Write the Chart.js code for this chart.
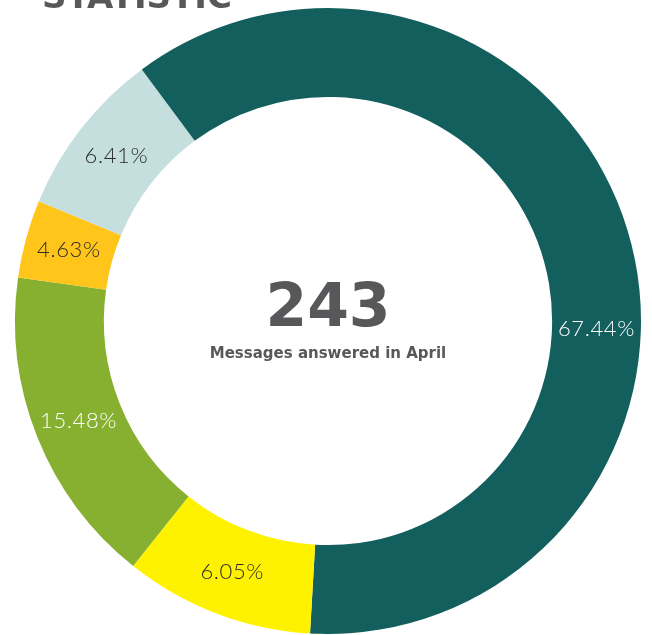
<!DOCTYPE html>
<html lang="en">
<head>
<meta charset="utf-8">
<title>Statistic</title>
<script src="https://cdn.jsdelivr.net/npm/chart.js@4.4.1/dist/chart.umd.min.js"></script>
<style>
  html, body { margin: 0; padding: 0; background: #fff; }
  #wrap { width: 652px; height: 635px; position: relative; }
</style>
</head>
<body>
<div id="wrap"><canvas id="stat"></canvas></div>
<script>
const shares = [50.92, 9.78, 16.53, 4.03, 8.61, 10.14];
// texts printed on the segments (last teal piece has none)
const labelTexts = ['67.44%', '6.05%', '15.48%', '4.63%', '6.41%', ''];
const colors = ['#135f5d', '#fff200', '#87b031', '#ffc51a', '#c5dfdf', '#135f5d'];
const labelColors = ['#ffffff', '#2a2a2a', '#ffffff', '#2a2a2a', '#2a2a2a', '#ffffff'];
const centerValue = '243';
const centerCaption = 'Messages answered in April';
const heading = 'STATISTIC';

const textPlugin = {
  id: 'textPlugin',
  afterDatasetsDraw(chart) {
    const ctx = chart.ctx;
    const arcs = chart.getDatasetMeta(0).data;
    ctx.save();
    ctx.textAlign = 'center';
    ctx.textBaseline = 'middle';
    ctx.font = '300 22px Lato';
    ctx.letterSpacing = '0.6px';
    arcs.forEach(function (arc, i) {
      if (!labelTexts[i]) return;
      const p = arc.tooltipPosition();
      ctx.fillStyle = labelColors[i];
      ctx.fillText(labelTexts[i], p.x, p.y);
    });
    ctx.letterSpacing = '0px';
    const c = arcs[0];
    ctx.fillStyle = '#58585a';
    ctx.font = 'bold 60px "DejaVu Sans"';
    ctx.textBaseline = 'alphabetic';
    ctx.fillText(centerValue, c.x, c.y + 5);
    ctx.font = 'bold 15px "DejaVu Sans"';
    ctx.fillText(centerCaption, c.x, c.y + 37);
    // heading, cut off by the top edge
    ctx.textAlign = 'left';
    ctx.font = 'bold 34px "DejaVu Sans"';
    ctx.fillText(heading, 42, 8);
    ctx.restore();
  }
};

new Chart(document.getElementById('stat'), {
  type: 'doughnut',
  data: {
    labels: labelTexts,
    datasets: [{
      data: shares,
      backgroundColor: colors,
      borderWidth: 0
    }]
  },
  options: {
    responsive: true,
    maintainAspectRatio: false,
    animation: false,
    cutout: '71.6%',
    layout: { padding: { top: 8, bottom: 1, left: 15, right: 11 } },
    plugins: {
      legend: { display: false },
      tooltip: { enabled: false }
    }
  },
  plugins: [textPlugin]
});
</script>
</body>
</html>
